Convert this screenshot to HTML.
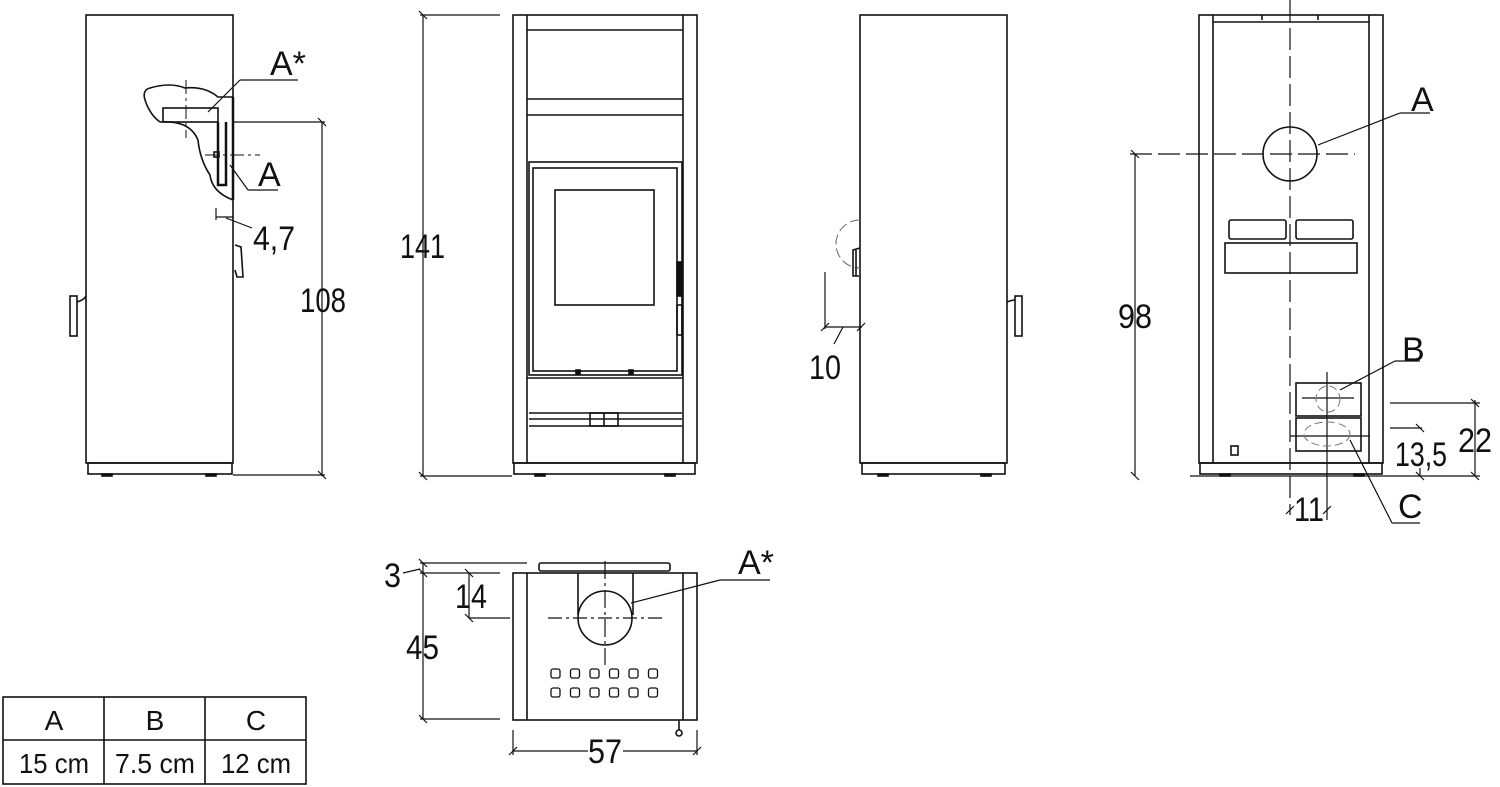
<!DOCTYPE html>
<html><head><meta charset="utf-8"><style>
html,body{margin:0;padding:0;background:#fff;}
svg{display:block}
text{font-family:"Liberation Sans Narrow","Liberation Sans",sans-serif;fill:#111;}
</style></head><body>
<svg width="1500" height="787" viewBox="0 0 1500 787" xmlns="http://www.w3.org/2000/svg">
<g fill="none" stroke="#111" stroke-width="1.6">
<!-- View 1 -->
<rect x="86" y="15" width="147" height="448"/>
<rect x="88" y="463" width="144" height="11"/>
<rect x="102" y="474" width="10" height="2" fill="#111"/>
<rect x="206" y="474" width="10" height="2" fill="#111"/>
<rect x="70" y="296" width="7" height="40"/>
<path d="M77 302 Q84 300 86 296"/>
<path d="M235 245 L241 247 L243 277 L237 277 L235 270"/>
<path d="M233 97 L218 97 Q205 86 185 88 Q170 82 150 88 Q142 90 145 100 Q150 115 160 122"/>
<path d="M160 122 Q190 120 198 140 Q200 160 210 175 Q212 192 233 200" />
<rect x="163" y="108" width="55" height="14"/>
<path d="M218 122 L218 185 L226 185 L226 122" stroke-width="2.5"/>
<line x1="233" y1="97" x2="233" y2="200" stroke-width="2.5"/>
<line x1="186" y1="80" x2="186" y2="138" stroke-dasharray="14,4,3,4" stroke-width="1"/>
<line x1="205" y1="155" x2="260" y2="155" stroke-dasharray="14,4,3,4" stroke-width="1"/>
<rect x="214" y="152" width="5" height="5"/>
<line x1="208" y1="112" x2="240" y2="80" stroke-width="1.2"/><line x1="240" y1="80" x2="298" y2="80" stroke-width="1.2"/>
<line x1="230" y1="165" x2="248" y2="190" stroke-width="1.2"/><line x1="248" y1="190" x2="278" y2="190" stroke-width="1.2"/>
<line x1="233" y1="122" x2="325" y2="122" stroke-width="1.2"/>
<line x1="233" y1="475" x2="325" y2="475" stroke-width="1.2"/>
<line x1="322" y1="122" x2="322" y2="476" stroke-width="1.2"/>
<path d="M318 118 L326 126 M318 471 L326 479" stroke-width="1.2"/>
<line x1="216" y1="208" x2="216" y2="220" stroke-width="1.2"/>
<line x1="216" y1="217" x2="233" y2="217" stroke-width="1.2"/>
<line x1="226" y1="218" x2="252" y2="228" stroke-width="1.2"/>
<!-- View 2 front -->
<line x1="420" y1="15" x2="500" y2="15" stroke-width="1.2"/>
<line x1="420" y1="476" x2="512" y2="476" stroke-width="1.2"/>
<line x1="423" y1="15" x2="423" y2="476" stroke-width="1.2"/>
<path d="M419 11 L427 19 M419 472 L427 480" stroke-width="1.2"/>
<rect x="513" y="15" width="184" height="448"/>
<line x1="527" y1="15" x2="527" y2="463"/><line x1="683" y1="15" x2="683" y2="463"/>
<line x1="527" y1="30" x2="683" y2="30"/>
<line x1="527" y1="99" x2="683" y2="99"/><line x1="527" y1="115" x2="683" y2="115"/>
<rect x="529" y="162" width="153" height="213"/>
<rect x="533" y="168" width="144" height="203"/>
<rect x="555" y="190" width="99" height="115"/>
<rect x="677" y="262" width="4" height="34" fill="#111"/>
<rect x="677" y="305" width="5" height="30"/>
<line x1="527" y1="378" x2="683" y2="378"/>
<rect x="576" y="370" width="4" height="4" fill="#111"/><rect x="629" y="370" width="4" height="4" fill="#111"/>
<line x1="529" y1="413" x2="682" y2="413"/><line x1="529" y1="419" x2="682" y2="419"/><line x1="529" y1="426" x2="682" y2="426"/>
<rect x="590" y="413" width="28" height="13"/><line x1="604" y1="413" x2="604" y2="426"/>
<rect x="514" y="463" width="181" height="11"/>
<rect x="535" y="474" width="10" height="2" fill="#111"/><rect x="665" y="474" width="10" height="2" fill="#111"/>
<!-- View 3 side -->
<rect x="860" y="15" width="147" height="448"/>
<rect x="862" y="463" width="143" height="11"/>
<rect x="878" y="474" width="10" height="2" fill="#111"/><rect x="981" y="474" width="10" height="2" fill="#111"/>
<path d="M860 220 A24 24 0 1 0 860 268" stroke-dasharray="10,4" stroke-width="1" stroke="#666"/>
<path d="M860 248 L853 250 L853 276 L859 276"/><line x1="856" y1="250" x2="856" y2="276"/>
<rect x="1015" y="296" width="7" height="40"/><path d="M1007 302 Q1012 300 1015 300"/>
<line x1="825" y1="272" x2="825" y2="329" stroke-width="1.2"/>
<line x1="825" y1="327" x2="862" y2="327" stroke-width="1.2"/>
<path d="M821 331 L829 323 M857 331 L865 323" stroke-width="1.2"/>
<line x1="843" y1="327" x2="834" y2="344" stroke-width="1.2"/>
<!-- View 4 rear -->
<rect x="1199" y="15" width="184" height="448"/>
<line x1="1213" y1="15" x2="1213" y2="463"/><line x1="1369" y1="15" x2="1369" y2="463"/>
<line x1="1213" y1="22" x2="1369" y2="22"/>
<line x1="1262" y1="15" x2="1262" y2="20"/><line x1="1318" y1="15" x2="1318" y2="20"/>
<line x1="1290" y1="0" x2="1290" y2="515" stroke-dasharray="22,6" stroke-width="1.2"/>
<circle cx="1290" cy="154" r="27"/>
<line x1="1130" y1="154" x2="1355" y2="154" stroke-dasharray="22,6" stroke-width="1.2"/>
<rect x="1229" y="220" width="57" height="19" rx="2"/><rect x="1296" y="220" width="57" height="19" rx="2"/>
<rect x="1225" y="243" width="132" height="30"/>
<rect x="1296" y="383" width="65" height="33"/><rect x="1296" y="418" width="65" height="33"/>
<line x1="1327" y1="372" x2="1327" y2="520" stroke-width="1.2"/>
<line x1="1302" y1="398" x2="1354" y2="398" stroke-width="1.2"/>
<line x1="1290" y1="436" x2="1370" y2="436" stroke-width="1.2"/>
<ellipse cx="1328" cy="399" rx="12" ry="13" stroke="#777" stroke-dasharray="8,4" stroke-width="1"/>
<ellipse cx="1327" cy="434" rx="23" ry="12" stroke="#777" stroke-dasharray="8,4" stroke-width="1"/>
<rect x="1231" y="446" width="7" height="9"/>
<rect x="1200" y="463" width="182" height="11"/>
<rect x="1220" y="474" width="10" height="2" fill="#111"/><rect x="1354" y="474" width="10" height="2" fill="#111"/>
<line x1="1318" y1="145" x2="1400" y2="113" stroke-width="1.2"/><line x1="1400" y1="113" x2="1430" y2="113" stroke-width="1.2"/>
<line x1="1340" y1="390" x2="1395" y2="361" stroke-width="1.2"/><line x1="1395" y1="361" x2="1420" y2="361" stroke-width="1.2"/>
<line x1="1350" y1="440" x2="1392" y2="523" stroke-width="1.2"/><line x1="1392" y1="523" x2="1420" y2="523" stroke-width="1.2"/>
<line x1="1190" y1="476" x2="1480" y2="476" stroke-width="1.2"/>
<line x1="1135" y1="154" x2="1135" y2="476" stroke-width="1.2"/>
<path d="M1131 150 L1139 158 M1131 472 L1139 480" stroke-width="1.2"/>
<line x1="1390" y1="403" x2="1480" y2="403" stroke-width="1.2"/>
<line x1="1475" y1="400" x2="1475" y2="476" stroke-width="1.2"/>
<path d="M1471 399 L1479 407 M1471 472 L1479 480" stroke-width="1.2"/>
<line x1="1390" y1="428" x2="1422" y2="428" stroke-width="1.2"/>
<path d="M1416 424 L1424 432 M1416 472 L1424 480" stroke-width="1.2"/>
<line x1="1420" y1="468" x2="1420" y2="476" stroke-width="1.2"/>
<path d="M1286 514 L1294 506 M1323 514 L1331 506" stroke-width="1.2"/>
<!-- Bottom view -->
<line x1="420" y1="563" x2="527" y2="563" stroke-width="1.2"/>
<line x1="420" y1="573" x2="500" y2="573" stroke-width="1.2"/>
<line x1="420" y1="719" x2="500" y2="719" stroke-width="1.2"/>
<line x1="423" y1="563" x2="423" y2="719" stroke-width="1.2"/>
<path d="M419 559 L427 567 M419 569 L427 577 M419 715 L427 723" stroke-width="1.2"/>
<line x1="403" y1="573" x2="420" y2="569" stroke-width="1.2"/>
<line x1="469" y1="573" x2="469" y2="618" stroke-width="1.2"/>
<line x1="469" y1="618" x2="510" y2="618" stroke-width="1.2"/>
<path d="M465 569 L473 577 M465 614 L473 622" stroke-width="1.2"/>
<rect x="513" y="573" width="184" height="147"/>
<line x1="527" y1="573" x2="527" y2="720"/><line x1="683" y1="573" x2="683" y2="720"/>
<rect x="539" y="563" width="131" height="8" rx="2"/>
<line x1="578" y1="573" x2="578" y2="615"/><line x1="633" y1="573" x2="633" y2="615"/>
<circle cx="605" cy="618" r="27"/>
<line x1="605" y1="561" x2="605" y2="665" stroke-dasharray="18,4,3,4" stroke-width="1.2"/>
<line x1="548" y1="618" x2="662" y2="618" stroke-dasharray="14,4,3,4" stroke-width="1.2"/>
<line x1="631" y1="603" x2="720" y2="580" stroke-width="1.2"/><line x1="720" y1="580" x2="770" y2="580" stroke-width="1.2"/>
<g stroke-width="1.3">
<rect x="551" y="669" width="9" height="9" rx="2"/><rect x="570.5" y="669" width="9" height="9" rx="2"/><rect x="590" y="669" width="9" height="9" rx="2"/><rect x="609.5" y="669" width="9" height="9" rx="2"/><rect x="629" y="669" width="9" height="9" rx="2"/><rect x="648.5" y="669" width="9" height="9" rx="2"/>
<rect x="551" y="688" width="9" height="9" rx="2"/><rect x="570.5" y="688" width="9" height="9" rx="2"/><rect x="590" y="688" width="9" height="9" rx="2"/><rect x="609.5" y="688" width="9" height="9" rx="2"/><rect x="629" y="688" width="9" height="9" rx="2"/><rect x="648.5" y="688" width="9" height="9" rx="2"/>
</g>
<line x1="679" y1="720" x2="679" y2="730"/><circle cx="679" cy="733" r="3"/>
<line x1="513" y1="730" x2="513" y2="755" stroke-width="1.2"/><line x1="697" y1="730" x2="697" y2="755" stroke-width="1.2"/>
<line x1="513" y1="751" x2="588" y2="751" stroke-width="1.2"/><line x1="623" y1="751" x2="697" y2="751" stroke-width="1.2"/>
<path d="M509 755 L517 747 M693 755 L701 747" stroke-width="1.2"/>
<!-- table -->
<rect x="3" y="697" width="303" height="87"/>
<line x1="3" y1="740" x2="306" y2="740"/>
<line x1="104" y1="697" x2="104" y2="784"/><line x1="205" y1="697" x2="205" y2="784"/>
</g>
<g font-size="34">
<text x="270" y="75">A*</text>
<text x="258" y="186">A</text>
<text x="253" y="250" textLength="42" lengthAdjust="spacingAndGlyphs">4,7</text>
<text x="300" y="312" textLength="46" lengthAdjust="spacingAndGlyphs">108</text>
<text x="400" y="258" textLength="45" lengthAdjust="spacingAndGlyphs">141</text>
<text x="809" y="379" textLength="32" lengthAdjust="spacingAndGlyphs">10</text>
<text x="1411" y="111">A</text>
<text x="1402" y="361">B</text>
<text x="1398" y="518">C</text>
<text x="1118" y="328" textLength="34" lengthAdjust="spacingAndGlyphs">98</text>
<text x="1458" y="452" textLength="34" lengthAdjust="spacingAndGlyphs">22</text>
<text x="1395" y="466" textLength="52" lengthAdjust="spacingAndGlyphs">13,5</text>
<text x="1294" y="521" textLength="30" lengthAdjust="spacingAndGlyphs">11</text>
<text x="738" y="574">A*</text>
<text x="384" y="587" textLength="17" lengthAdjust="spacingAndGlyphs">3</text>
<text x="455" y="608" textLength="32" lengthAdjust="spacingAndGlyphs">14</text>
<text x="406" y="659" textLength="33" lengthAdjust="spacingAndGlyphs">45</text>
<text x="588" y="763" textLength="34" lengthAdjust="spacingAndGlyphs">57</text>
</g>
<g font-size="28" text-anchor="middle">
<text x="54" y="730">A</text><text x="155" y="730">B</text><text x="256" y="730">C</text>
<text x="54" y="773" textLength="70" lengthAdjust="spacingAndGlyphs">15 cm</text>
<text x="155" y="773" textLength="80" lengthAdjust="spacingAndGlyphs">7.5 cm</text>
<text x="256" y="773" textLength="70" lengthAdjust="spacingAndGlyphs">12 cm</text>
</g>
</svg>
</body></html>
